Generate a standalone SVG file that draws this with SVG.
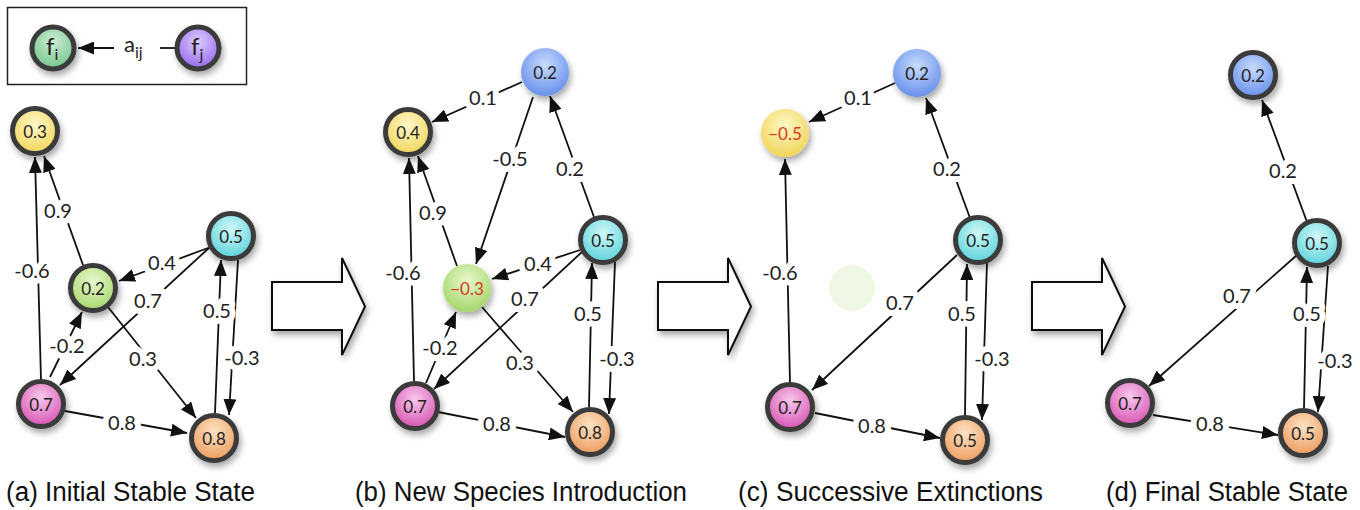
<svg xmlns="http://www.w3.org/2000/svg" width="1360" height="510" viewBox="0 0 1360 510">
<style>
.edge{stroke:#111;stroke-width:1.8;fill:none;marker-end:url(#ah)}
.plain{stroke:#111;stroke-width:1.8;fill:none}
.lbl{font-family:Lato,"Open Sans","Liberation Sans",sans-serif;font-size:20px;fill:#222;text-anchor:middle;dominant-baseline:central;paint-order:stroke;stroke:#fff;stroke-width:12px;stroke-linejoin:round}
.nt{font-family:Lato,"Open Sans","Liberation Sans",sans-serif;font-size:17px;fill:#222;text-anchor:middle;dominant-baseline:central}
.red{fill:#d63a1f}
.bd{stroke:#3a3a3a;stroke-width:5}
.cap{font-family:"Liberation Sans",Arial,sans-serif;font-size:27px;fill:#111}
.blk{fill:#fff;stroke:#111;stroke-width:2;stroke-linejoin:miter}
.lg{font-family:Lato,"Open Sans","Liberation Sans",sans-serif;fill:#222}
</style>
<defs>
<marker id="ah" markerUnits="userSpaceOnUse" markerWidth="16" markerHeight="13" refX="16" refY="6.5" orient="auto"><path d="M0,0 L16,6.5 L0,13 Z" fill="#111"/></marker>
<filter id="sh" x="-40%" y="-40%" width="180%" height="180%"><feDropShadow dx="2" dy="4" stdDeviation="3" flood-color="#000" flood-opacity="0.35"/></filter>
<radialGradient id="gy" cx="50%" cy="35%" r="65%"><stop offset="0" stop-color="#fff8c8"/><stop offset="1" stop-color="#f0d55a"/></radialGradient>
<radialGradient id="gg" cx="50%" cy="35%" r="65%"><stop offset="0" stop-color="#e8f8cc"/><stop offset="1" stop-color="#a6d66c"/></radialGradient>
<radialGradient id="gc" cx="50%" cy="35%" r="65%"><stop offset="0" stop-color="#d0f8f8"/><stop offset="1" stop-color="#5cd2da"/></radialGradient>
<radialGradient id="gp" cx="50%" cy="35%" r="65%"><stop offset="0" stop-color="#f9c8ec"/><stop offset="1" stop-color="#d654b2"/></radialGradient>
<radialGradient id="go" cx="50%" cy="35%" r="65%"><stop offset="0" stop-color="#fde2c4"/><stop offset="1" stop-color="#ec9c5e"/></radialGradient>
<radialGradient id="gb" cx="50%" cy="35%" r="65%"><stop offset="0" stop-color="#c8dcff"/><stop offset="1" stop-color="#6890ea"/></radialGradient>
<radialGradient id="gl" cx="50%" cy="35%" r="65%"><stop offset="0" stop-color="#cdeed4"/><stop offset="1" stop-color="#74c48c"/></radialGradient>
<radialGradient id="gv" cx="50%" cy="35%" r="65%"><stop offset="0" stop-color="#e0ccff"/><stop offset="1" stop-color="#9468ee"/></radialGradient>
<path id="bigarrow" d="M0,24 H70 V0 L93,48.5 L70,97 V72 H0 Z"/>
</defs>
<rect width="1360" height="510" fill="#fff"/>

<!-- legend -->
<g id="legend">
<rect x="7.5" y="7.5" width="239" height="77" fill="#fff" stroke="#222" stroke-width="1.5"/>
<line class="edge" x1="114" y1="48" x2="78" y2="48"/>
<line class="plain" x1="160" y1="48" x2="176" y2="48"/>
<text class="lg" x="124" y="52" font-size="22">a<tspan font-size="16" dy="6">ij</tspan></text>
</g>
<g id="legend-fi"><circle cx="53" cy="48" r="21" fill="url(#gl)" class="bd" filter="url(#sh)"/><text class="lg" x="46" y="55" font-size="24">f<tspan font-size="16" dy="5">i</tspan></text></g>
<g id="legend-fj"><circle cx="198" cy="48" r="21" fill="url(#gv)" class="bd" filter="url(#sh)"/><text class="lg" x="191" y="55" font-size="24">f<tspan font-size="16" dy="5">j</tspan></text></g>

<!-- block arrows -->
<g id="step-ab"><use href="#bigarrow" class="blk" transform="translate(272,258)" filter="url(#sh)"/></g>
<g id="step-bc"><use href="#bigarrow" class="blk" transform="translate(658,258)" filter="url(#sh)"/></g>
<g id="step-cd"><use href="#bigarrow" class="blk" transform="translate(1032,258)" filter="url(#sh)"/></g>

<!-- connectors -->
<g id="connectors">
<!-- (a) -->
<line class="edge" x1="41" y1="380" x2="35" y2="157"/>
<line class="edge" x1="83" y1="265" x2="44" y2="156"/>
<line class="edge" x1="208" y1="248" x2="119" y2="281"/>
<line class="edge" x1="210" y1="247" x2="60" y2="385"/>
<line class="edge" x1="50" y1="377" x2="82" y2="312"/>
<line class="edge" x1="108" y1="307" x2="196" y2="418"/>
<line class="edge" x1="65" y1="411" x2="187" y2="433"/>
<line class="edge" x1="215" y1="413" x2="221" y2="260"/>
<line class="edge" x1="238" y1="260" x2="229" y2="415"/>
<!-- (b) -->
<line class="edge" x1="522" y1="82" x2="432" y2="122"/>
<line class="edge" x1="533" y1="97" x2="476" y2="264"/>
<line class="edge" x1="594" y1="217" x2="550" y2="96"/>
<line class="edge" x1="414" y1="381" x2="409" y2="158"/>
<line class="edge" x1="457" y1="266" x2="418" y2="156"/>
<line class="edge" x1="580" y1="250" x2="492" y2="279"/>
<line class="edge" x1="583" y1="251" x2="434" y2="389"/>
<line class="edge" x1="426" y1="383" x2="456" y2="312"/>
<line class="edge" x1="482" y1="307" x2="573" y2="412"/>
<line class="edge" x1="438" y1="412" x2="565" y2="437"/>
<line class="edge" x1="589" y1="407" x2="592" y2="263"/>
<line class="edge" x1="615" y1="262" x2="609" y2="414"/>
<!-- (c) -->
<line class="edge" x1="895" y1="83" x2="809" y2="122"/>
<line class="edge" x1="970" y1="218" x2="926" y2="98"/>
<line class="edge" x1="790" y1="383" x2="785" y2="159"/>
<line class="edge" x1="957" y1="255" x2="812" y2="390"/>
<line class="edge" x1="965" y1="416" x2="967" y2="264"/>
<line class="edge" x1="987" y1="262" x2="982" y2="420"/>
<line class="edge" x1="815" y1="413" x2="940" y2="438"/>
<!-- (d) -->
<line class="edge" x1="1307" y1="222" x2="1262" y2="100"/>
<line class="edge" x1="1297" y1="255" x2="1149" y2="386"/>
<line class="edge" x1="1304" y1="408" x2="1307" y2="267"/>
<line class="edge" x1="1328" y1="266" x2="1318" y2="412"/>
<line class="edge" x1="1153" y1="415" x2="1278" y2="435"/>
<!-- labels -->
<text class="lbl" x="32" y="270">-0.6</text>
<text class="lbl" x="58" y="210">0.9</text>
<text class="lbl" x="162" y="262">0.4</text>
<text class="lbl" x="148" y="300">0.7</text>
<text class="lbl" x="67" y="345">-0.2</text>
<text class="lbl" x="143" y="358">0.3</text>
<text class="lbl" x="122" y="422">0.8</text>
<text class="lbl" x="217" y="310">0.5</text>
<text class="lbl" x="242" y="357">-0.3</text>

<text class="lbl" x="483" y="97">0.1</text>
<text class="lbl" x="510" y="158">-0.5</text>
<text class="lbl" x="570" y="168">0.2</text>
<text class="lbl" x="403" y="272">-0.6</text>
<text class="lbl" x="433" y="212">0.9</text>
<text class="lbl" x="538" y="263">0.4</text>
<text class="lbl" x="525" y="298">0.7</text>
<text class="lbl" x="440" y="347">-0.2</text>
<text class="lbl" x="520" y="362">0.3</text>
<text class="lbl" x="497" y="423">0.8</text>
<text class="lbl" x="588" y="313">0.5</text>
<text class="lbl" x="617" y="358">-0.3</text>

<text class="lbl" x="858" y="97">0.1</text>
<text class="lbl" x="947" y="168">0.2</text>
<text class="lbl" x="780" y="272">-0.6</text>
<text class="lbl" x="900" y="302">0.7</text>
<text class="lbl" x="962" y="313">0.5</text>
<text class="lbl" x="992" y="358">-0.3</text>
<text class="lbl" x="872" y="425">0.8</text>

<text class="lbl" x="1283" y="170">0.2</text>
<text class="lbl" x="1237" y="295">0.7</text>
<text class="lbl" x="1307" y="313">0.5</text>
<text class="lbl" x="1335" y="360">-0.3</text>
<text class="lbl" x="1210" y="423">0.8</text>
</g>

<!-- (a) nodes -->
<g id="a-n1"><circle cx="35" cy="131" r="22.5" fill="url(#gy)" class="bd" filter="url(#sh)"/><text class="nt" x="35" y="131">0.3</text></g>
<g id="a-n2"><circle cx="93" cy="288" r="22.5" fill="url(#gg)" class="bd" filter="url(#sh)"/><text class="nt" x="93" y="288">0.2</text></g>
<g id="a-n3"><circle cx="231" cy="236" r="22.5" fill="url(#gc)" class="bd" filter="url(#sh)"/><text class="nt" x="231" y="236">0.5</text></g>
<g id="a-n4"><circle cx="41" cy="404" r="22.5" fill="url(#gp)" class="bd" filter="url(#sh)"/><text class="nt" x="41" y="404">0.7</text></g>
<g id="a-n5"><circle cx="214" cy="438" r="22.5" fill="url(#go)" class="bd" filter="url(#sh)"/><text class="nt" x="214" y="438">0.8</text></g>

<!-- (b) nodes -->
<g id="b-n0"><circle cx="545" cy="72" r="24" fill="url(#gb)" filter="url(#sh)"/><text class="nt" x="545" y="72">0.2</text></g>
<g id="b-n1"><circle cx="408" cy="132" r="22.5" fill="url(#gy)" class="bd" filter="url(#sh)"/><text class="nt" x="408" y="132">0.4</text></g>
<g id="b-n2"><circle cx="467" cy="288" r="24" fill="url(#gg)" filter="url(#sh)"/><text class="nt red" x="467" y="288">−0.3</text></g>
<g id="b-n3"><circle cx="603" cy="240" r="22.5" fill="url(#gc)" class="bd" filter="url(#sh)"/><text class="nt" x="603" y="240">0.5</text></g>
<g id="b-n4"><circle cx="415" cy="406" r="22.5" fill="url(#gp)" class="bd" filter="url(#sh)"/><text class="nt" x="415" y="406">0.7</text></g>
<g id="b-n5"><circle cx="590" cy="432" r="22.5" fill="url(#go)" class="bd" filter="url(#sh)"/><text class="nt" x="590" y="432">0.8</text></g>

<!-- (c) nodes -->
<g id="c-n0"><circle cx="917" cy="73" r="24" fill="url(#gb)" filter="url(#sh)"/><text class="nt" x="917" y="73">0.2</text></g>
<g id="c-n1"><circle cx="785" cy="133" r="24" fill="url(#gy)" filter="url(#sh)"/><text class="nt red" x="785" y="133">−0.5</text></g>
<g id="c-n2"><circle cx="852" cy="288" r="23" fill="#eff8e4"/></g>
<g id="c-n3"><circle cx="978" cy="240" r="22.5" fill="url(#gc)" class="bd" filter="url(#sh)"/><text class="nt" x="978" y="240">0.5</text></g>
<g id="c-n4"><circle cx="790" cy="407" r="22.5" fill="url(#gp)" class="bd" filter="url(#sh)"/><text class="nt" x="790" y="407">0.7</text></g>
<g id="c-n5"><circle cx="965" cy="440" r="22.5" fill="url(#go)" class="bd" filter="url(#sh)"/><text class="nt" x="965" y="440">0.5</text></g>

<!-- (d) nodes -->
<g id="d-n0"><circle cx="1253" cy="75" r="22.5" fill="url(#gb)" class="bd" filter="url(#sh)"/><text class="nt" x="1253" y="75">0.2</text></g>
<g id="d-n3"><circle cx="1317" cy="243" r="22.5" fill="url(#gc)" class="bd" filter="url(#sh)"/><text class="nt" x="1317" y="243">0.5</text></g>
<g id="d-n4"><circle cx="1130" cy="403" r="22.5" fill="url(#gp)" class="bd" filter="url(#sh)"/><text class="nt" x="1130" y="403">0.7</text></g>
<g id="d-n5"><circle cx="1303" cy="433" r="22.5" fill="url(#go)" class="bd" filter="url(#sh)"/><text class="nt" x="1303" y="433">0.5</text></g>

<!-- captions -->
<g id="captions">
<text class="cap" x="6" y="501" textLength="249" lengthAdjust="spacingAndGlyphs">(a) Initial Stable State</text>
<text class="cap" x="355" y="501" textLength="332" lengthAdjust="spacingAndGlyphs">(b) New Species Introduction</text>
<text class="cap" x="738" y="501" textLength="305" lengthAdjust="spacingAndGlyphs">(c) Successive Extinctions</text>
<text class="cap" x="1106" y="501" textLength="242" lengthAdjust="spacingAndGlyphs">(d) Final Stable State</text>
</g>
</svg>
